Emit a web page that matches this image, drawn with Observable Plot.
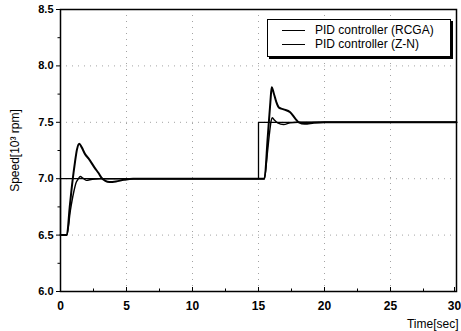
<!DOCTYPE html>
<html>
<head>
<meta charset="utf-8">
<script src="https://cdn.jsdelivr.net/npm/d3@7"></script>
<script src="https://cdn.jsdelivr.net/npm/@observablehq/plot@0.6"></script>
<style>
  html, body { margin: 0; padding: 0; background: #fff; }
  #wrap { position: relative; width: 461px; height: 331px; font-family: "Liberation Sans", Arial, sans-serif; }
  #legend { position: absolute; left: 267px; top: 19px; width: 182px; height: 36px; border: 1px solid #000; box-shadow: 2px 2px 0 #000; background: #fff; font-size: 12px; color: #000; }
  .row { position: absolute; left: 14px; height: 14px; line-height: 14px; white-space: nowrap; }
  .row span.sw { display: inline-block; width: 23px; height: 0; border-top: 1.3px solid #000; vertical-align: middle; margin-right: 10px; }
</style>
</head>
<body>
<div id="wrap"></div>
<script>
// Time axis / speed values
const xTicks = [0, 5, 10, 15, 20, 25];
const xLast = [30];
const xMinor = [2.5, 7.5, 12.5, 17.5, 22.5, 27.5];
const yTicks = [6.0, 6.5, 7.0, 7.5, 8.0, 8.5];
const yMinor = [6.25, 6.75, 7.25, 7.75, 8.25];
const gridXValues = [5, 10, 15, 20, 25];
const gridYValues = [6.5, 7.0, 7.5, 8.0];

const seriesNames = ["PID controller (RCGA)", "PID controller (Z-N)"];

// setpoint (reference speed)
const refT = [0, 0, 15, 15, 30];
const refY = [6.5, 7.0, 7.0, 7.5, 7.5];

// RCGA response (small overshoot)
const rcgaT = [0, 0.48, 0.75, 1.0, 1.2, 1.36, 1.49, 1.7, 1.95, 2.4, 3.0, 15.0, 15.45, 15.65, 15.85, 15.97, 16.05, 16.2, 16.45, 16.9, 17.4, 18.0, 30];
const rcgaY = [6.5, 6.5, 6.72, 6.88, 6.97, 7.0, 7.02, 7.005, 6.985, 6.995, 7.0, 7.0, 7.0, 7.2, 7.42, 7.52, 7.54, 7.52, 7.495, 7.48, 7.495, 7.5, 7.5];

// Z-N response (large overshoot)
const znT = [0, 0.48, 0.7, 0.9, 1.1, 1.25, 1.42, 1.6, 1.85, 2.12, 2.63, 2.88, 3.1, 3.4, 3.7, 4.2, 4.8, 5.5, 15.0, 15.45, 15.7, 15.9, 16.0, 16.15, 16.35, 16.55, 16.9, 17.4, 17.8, 18.05, 18.5, 19.2, 20, 30];
const znY = [6.5, 6.5, 6.75, 6.97, 7.15, 7.26, 7.31, 7.28, 7.22, 7.18, 7.09, 7.05, 7.01, 6.98, 6.97, 6.975, 6.99, 7.0, 7.0, 7.0, 7.37, 7.68, 7.81, 7.76, 7.68, 7.63, 7.615, 7.59, 7.53, 7.5, 7.487, 7.495, 7.5, 7.5];

const ref = refT.map((t, i) => ({t, v: refY[i]}));
const rcga = rcgaT.map((t, i) => ({t, v: rcgaY[i]}));
const zn = znT.map((t, i) => ({t, v: znY[i]}));

const chart = Plot.plot({
  width: 461,
  height: 331,
  marginLeft: 60,
  marginRight: 5,
  marginTop: 9,
  marginBottom: 40,
  style: { fontFamily: "Liberation Sans, Arial, sans-serif", fontSize: "11px", color: "#000", background: "#fff" },
  x: { domain: [0, 30] },
  y: { domain: [6.0, 8.5] },
  marks: [
    Plot.gridX(gridXValues, { stroke: "#999", strokeOpacity: 0.9, strokeDasharray: "1,5" }),
    Plot.gridY(gridYValues, { stroke: "#999", strokeOpacity: 0.9, strokeDasharray: "1,5" }),
    Plot.line(ref, { x: "t", y: "v", stroke: "#000", strokeWidth: 1.3 }),
    Plot.line(rcga, { x: "t", y: "v", stroke: "#000", strokeWidth: 1.4, curve: "monotone-x" }),
    Plot.line(zn, { x: "t", y: "v", stroke: "#000", strokeWidth: 2, curve: "monotone-x" }),
    Plot.frame({ stroke: "#000", strokeWidth: 1.5 }),
    Plot.axisX({ ticks: xTicks, tickSize: -4, tickPadding: 14, tickFormat: d3.format("d"), fontSize: 12, fontWeight: "bold", label: null }),
    Plot.axisX({ ticks: xLast, tickSize: -4, tickPadding: 14, tickFormat: d3.format("d"), fontSize: 12, fontWeight: "bold", label: null, dx: -2 }),
    Plot.axisX({ ticks: [], fontSize: 12, fill: "#000", label: "Time[sec]", labelAnchor: "right", labelArrow: "none", labelOffset: 36 }),
    Plot.axisX({ ticks: xMinor, tickSize: -2.5, tickFormat: null, text: null, label: null }),
    Plot.axisY({ ticks: yTicks, tickSize: 4, tickPadding: 3, tickFormat: d3.format(".1f"), fontSize: 11, fontWeight: "bold", label: null }),
    Plot.axisY({ ticks: [], fontSize: 12, fill: "#000", label: "Speed[10³ rpm]", labelAnchor: "center", labelArrow: "none", labelOffset: 50 }),
    Plot.axisY({ ticks: yMinor, tickSize: 2.5, tickFormat: null, text: null, label: null })
  ]
});

const wrap = document.getElementById("wrap");
wrap.appendChild(chart);

// legend overlay
const legend = document.createElement("div");
legend.id = "legend";
seriesNames.forEach((name, i) => {
  const row = document.createElement("div");
  row.className = "row";
  row.style.top = (3 + i * 14) + "px";
  const sw = document.createElement("span");
  sw.className = "sw";
  row.appendChild(sw);
  row.appendChild(document.createTextNode(name));
  legend.appendChild(row);
});
wrap.appendChild(legend);
</script>
</body>
</html>
